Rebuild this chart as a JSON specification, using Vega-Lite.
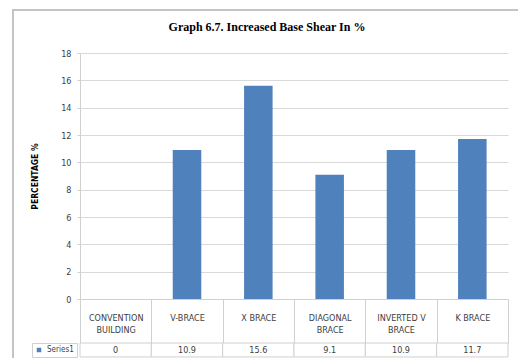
{
  "$schema": "https://vega.github.io/schema/vega-lite/v6.json",
  "background": "white",
  "width": 530,
  "height": 360,
  "autosize": "none",
  "padding": {"left": 13, "top": 10, "right": 0, "bottom": 0},
  "view": {"stroke": "#c4c4c4", "strokeWidth": 2},
  "title": {
    "text": "Graph 6.7. Increased Base Shear In %",
    "font": "Liberation Serif",
    "fontSize": 12,
    "fontWeight": "bold",
    "color": "#000000",
    "anchor": "middle",
    "dx": -11,
    "offset": -24
  },
  "data": {
    "values": [
      {"structure": "CONVENTION BUILDING", "series": "Series1", "increase": 0},
      {"structure": "V-BRACE", "series": "Series1", "increase": 10.9},
      {"structure": "X BRACE", "series": "Series1", "increase": 15.6},
      {"structure": "DIAGONAL BRACE", "series": "Series1", "increase": 9.1},
      {"structure": "INVERTED V BRACE", "series": "Series1", "increase": 10.9},
      {"structure": "K BRACE", "series": "Series1", "increase": 11.7}
    ]
  },
  "encoding": {
    "x": {
      "field": "structure",
      "type": "nominal",
      "sort": null,
      "scale": {"range": [67, 495], "paddingInner": 0, "paddingOuter": 0},
      "axis": {
        "title": null,
        "offset": -71,
        "labelAngle": 0,
        "tickBand": "extent",
        "tickSize": 44,
        "tickColor": "#d0d0d0",
        "domainColor": "#d0d0d0",
        "labelBaseline": "middle",
        "labelPadding": -26,
        "labelLineHeight": 12,
        "labelExpr": "length(datum.label) > 8 ? [slice(datum.label, 0, lastindexof(datum.label, ' ')), slice(datum.label, lastindexof(datum.label, ' ') + 1)] : datum.label"
      }
    }
  },
  "layer": [
    {
      "mark": {"type": "bar", "width": {"band": 0.4}},
      "encoding": {
        "y": {
          "field": "increase",
          "type": "quantitative",
          "scale": {"domain": [0, 18], "range": [289, 43], "nice": false},
          "axis": {
            "offset": -67,
            "values": [0, 2, 4, 6, 8, 10, 12, 14, 16, 18],
            "labelOverlap": false,
            "title": "PERCENTAGE %",
            "titleFont": "DejaVu Sans Condensed",
            "titleFontSize": 8.5,
            "titleFontWeight": "bold",
            "titleColor": "#000000",
            "titlePadding": 21,
            "grid": true,
            "gridColor": "#d9d9d9",
            "tickSize": 3,
            "tickColor": "#d0d0d0",
            "domainColor": "#d0d0d0",
            "labelPadding": 6
          }
        },
        "color": {
          "field": "series",
          "type": "nominal",
          "scale": {"range": ["#4f81bd"]},
          "legend": {
            "title": null,
            "orient": "none",
            "legendX": 19,
            "legendY": 333,
            "strokeColor": "#d0d0d0",
            "padding": 3,
            "symbolType": "square",
            "symbolSize": 20,
            "symbolStrokeWidth": 0,
            "labelFontSize": 8,
            "labelFont": "Liberation Sans Narrow, DejaVu Sans Condensed, sans-serif",
            "labelColor": "#404040"
          }
        }
      }
    },
    {
      "mark": {"type": "rect", "fill": "white", "stroke": "#d0d0d0", "strokeWidth": 1},
      "encoding": {
        "y": {
          "datum": -3.22,
          "type": "quantitative",
          "axis": {
            "offset": -67,
            "values": [0, 2, 4, 6, 8, 10, 12, 14, 16, 18],
            "labelOverlap": false,
            "title": "PERCENTAGE %",
            "titleFont": "DejaVu Sans Condensed",
            "titleFontSize": 8.5,
            "titleFontWeight": "bold",
            "titleColor": "#000000",
            "titlePadding": 21,
            "grid": true,
            "gridColor": "#d9d9d9",
            "tickSize": 3,
            "tickColor": "#d0d0d0",
            "domainColor": "#d0d0d0",
            "labelPadding": 6
          }
        },
        "y2": {"datum": -4.24}
      }
    },
    {
      "mark": {
        "type": "text",
        "font": "Liberation Sans Narrow, DejaVu Sans Condensed, sans-serif",
        "fontSize": 9,
        "color": "#404040"
      },
      "encoding": {
        "y": {
          "datum": -3.73,
          "type": "quantitative",
          "axis": {
            "offset": -67,
            "values": [0, 2, 4, 6, 8, 10, 12, 14, 16, 18],
            "labelOverlap": false,
            "title": "PERCENTAGE %",
            "titleFont": "DejaVu Sans Condensed",
            "titleFontSize": 8.5,
            "titleFontWeight": "bold",
            "titleColor": "#000000",
            "titlePadding": 21,
            "grid": true,
            "gridColor": "#d9d9d9",
            "tickSize": 3,
            "tickColor": "#d0d0d0",
            "domainColor": "#d0d0d0",
            "labelPadding": 6
          }
        },
        "text": {"field": "increase", "type": "quantitative"}
      }
    }
  ],
  "config": {
    "axis": {
      "labelFont": "Liberation Sans Narrow, DejaVu Sans Condensed, sans-serif",
      "labelFontSize": 9,
      "labelColor": "#404040"
    }
  }
}
